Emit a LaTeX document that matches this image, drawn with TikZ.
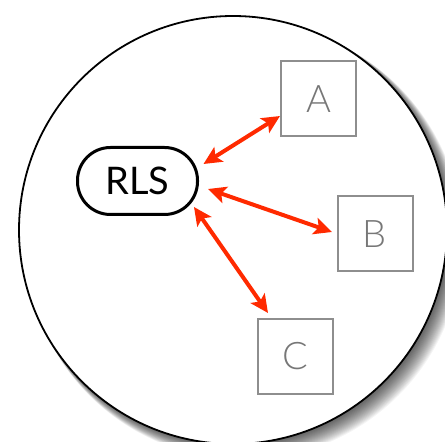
\documentclass[tikz,border=0pt]{standalone}
\usepackage{fontspec}
\setmainfont{Lato}
\newfontfamily\lightfont{Lato Light}
\usetikzlibrary{arrows.meta,calc}
\definecolor{arrowred}{HTML}{FF2A00}
\definecolor{boxgray}{HTML}{8E8E8E}
\definecolor{textgray}{HTML}{777777}
\begin{document}
\begin{tikzpicture}[x=1pt,y=1pt,
  rlsbox/.style={draw=black,line width=3pt,rounded corners=33pt,minimum width=120pt,minimum height=67pt,inner sep=0pt,font=\fontsize{38}{38}\selectfont,text=black},
  sitebox/.style={draw=boxgray,line width=2pt,minimum size=75pt,inner sep=0pt,font=\lightfont\fontsize{38}{38}\selectfont,text=textgray},
  link/.style={draw=arrowred,line width=4pt,{Stealth[length=18pt,width=17pt,inset=4pt]}-{Stealth[length=18pt,width=17pt,inset=4pt]}}]
\useasboundingbox (0,0) rectangle (445,442);
\fill[white] (0,0) rectangle (445,442);
% soft shadow
\foreach \i in {1,...,20}{
  \fill[black,opacity=0.045] ({233+0.55*\i},{212-0.55*\i}) circle ({213.5+0.25*\i});
}
\draw[black,line width=1.8pt,fill=white] (233,212) circle (214);
\node[rlsbox] (rls) at (137.5,261) {RLS};
\node[sitebox] (A) at (318.5,343) {A};
\node[sitebox] (B) at (375,208) {B};
\node[sitebox] (C) at (295,85.5) {C};
\draw[link] ($(rls.center)+(66,17)$) -- ($(A.west)+(0,-17)$);
\draw[link] ($(rls.center)+(70.5,-8)$) -- ($(B.west)+(-4.5,2)$);
\draw[link] ($(rls.center)+(56.5,-26)$) -- ($(C.north)+(-27,5)$);
\end{tikzpicture}
\end{document}
